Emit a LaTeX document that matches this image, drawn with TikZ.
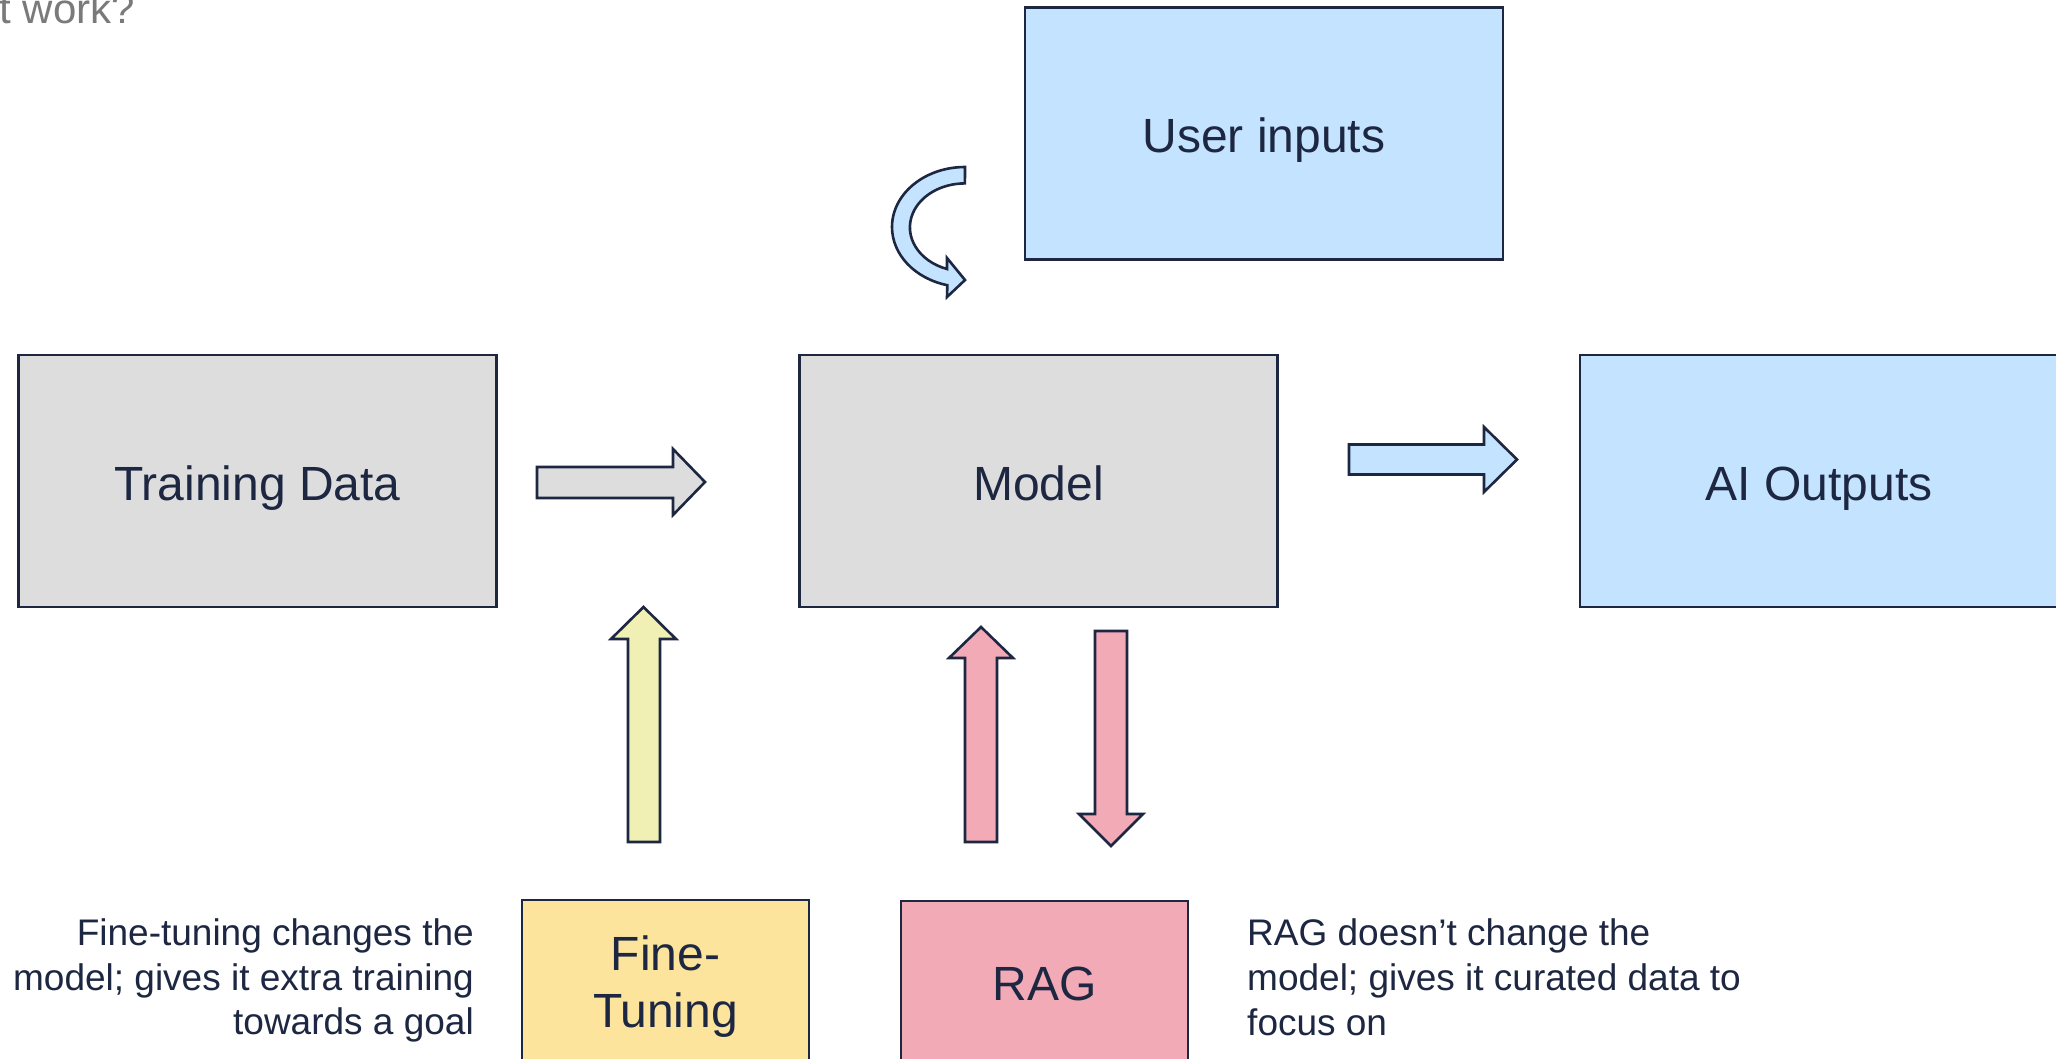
\documentclass[tikz,border=0pt]{standalone}
\usepackage{fontspec}
\setmainfont{Liberation Sans}
\definecolor{navy}{HTML}{1D2742}
\definecolor{grayfill}{HTML}{DDDDDD}
\definecolor{bluefill}{HTML}{C4E3FE}
\definecolor{yellowfill}{HTML}{FCE49D}
\definecolor{pinkfill}{HTML}{F3AAB7}
\definecolor{paleyellow}{HTML}{F0F0B4}
\definecolor{titlegray}{HTML}{7A7A7A}
\tikzset{
  boxbase/.style={draw=navy, line width=2.6pt, minimum width=478, minimum height=252,
    inner sep=0pt, text=navy, font=\fontsize{48}{57}\selectfont},
  box/.style={boxbase, text height=40pt, text depth=2pt},
  smallbox/.style={boxbase, minimum width=287, minimum height=166},
  blockarrow/.style={draw=navy, line width=2.6pt, line join=miter},
  desc/.style={inner sep=0pt, text=navy, font=\fontsize{37}{44.5}\selectfont},
}
\begin{document}
\begin{tikzpicture}[x=1pt,y=-1pt]
\useasboundingbox (0,0) rectangle (2056,1058);
\clip (0,0) rectangle (2056,1058);
\fill[white] (0,0) rectangle (2056,1058);

% title fragment
\node[inner sep=0pt, anchor=base east, text=titlegray, font=\fontsize{42}{50}\selectfont] (title) at (135,23) {t work?};

% boxes
\node[box, fill=grayfill] (train) at (257.5,481) {Training Data};
\node[box, fill=grayfill] (model) at (1038.5,481) {Model};
\node[box, fill=bluefill] (user) at (1264,133.3) {User inputs};
\node[box, fill=bluefill] (out) at (1819,481) {AI Outputs};
\node[smallbox, fill=yellowfill] (ftbox) at (665.5,983) {};
\node[inner sep=0pt, align=center, text=navy, font=\fontsize{48}{57}\selectfont] (ft) at (665.5,986.5) {Fine-\\Tuning};
\node[smallbox, fill=pinkfill] (rag) at (1044.5,984) {RAG};

% block arrows
\draw[blockarrow, fill=grayfill] (537,467) -- (673,467) -- (673,449) -- (705,482) -- (673,515) -- (673,498) -- (537,498) -- cycle;
\draw[blockarrow, fill=bluefill] (1349,444.5) -- (1484,444.5) -- (1484,427) -- (1517,459.5) -- (1484,492) -- (1484,474.5) -- (1349,474.5) -- cycle;
\draw[blockarrow, fill=paleyellow] (628,842) -- (628,639) -- (611,639) -- (643.5,607) -- (676,639) -- (660,639) -- (660,842) -- cycle;
\draw[blockarrow, fill=pinkfill] (965,842) -- (965,658) -- (949,658) -- (981,627) -- (1013,658) -- (997,658) -- (997,842) -- cycle;
\draw[blockarrow, fill=pinkfill] (1095,631) -- (1127,631) -- (1127,814) -- (1143,814) -- (1111,846) -- (1079,814) -- (1095,814) -- cycle;

% curved arrow
\draw[blockarrow, fill=bluefill] (965,167) arc[start angle=270, end angle=104, x radius=73, y radius=60]
  -- (947,297) -- (965,280) -- (947,258) -- (947,269)
  arc[start angle=109, end angle=270, x radius=55, y radius=44] -- cycle;

% descriptions
\node[desc, anchor=base east] (l1) at (474,945) {Fine-tuning changes the};
\node[desc, anchor=base east] (l2) at (474,990) {model; gives it extra training};
\node[desc, anchor=base east] (l3) at (474,1034) {towards a goal};
\node[desc, anchor=base west] (r1) at (1247,945) {RAG doesn’t change the};
\node[desc, anchor=base west] (r2) at (1247,990) {model; gives it curated data to};
\node[desc, anchor=base west] (r3) at (1247,1035) {focus on};
\end{tikzpicture}
\end{document}
